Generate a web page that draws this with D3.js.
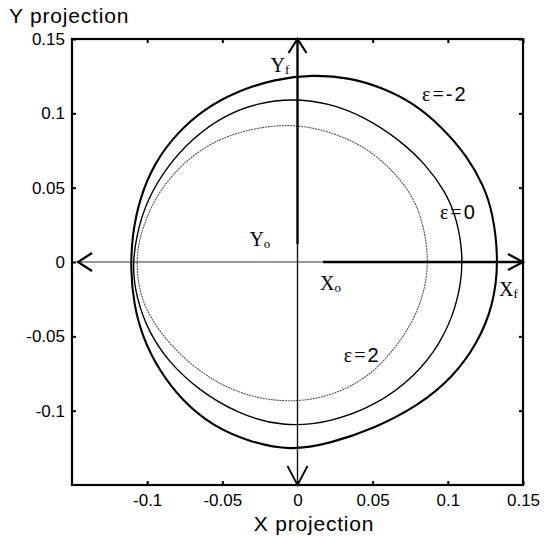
<!DOCTYPE html>
<html>
<head>
<meta charset="utf-8">
<script src="https://cdn.jsdelivr.net/npm/d3@7"></script>
<style>
  html, body { margin: 0; padding: 0; background: #fff; }
  svg { display: block; }
  .tick text { font-family: "Liberation Sans", Arial, sans-serif; font-size: 17px; fill: #000; }
</style>
</head>
<body>
<script>
// Axis ticks
const xTicks = [-0.1, -0.05, 0, 0.05, 0.1, 0.15];
const yTicks = [-0.1, -0.05, 0, 0.05, 0.1, 0.15];
const xTickLabels = ["-0.1", "-0.05", "0", "0.05", "0.1", "0.15"];
const yTickLabels = ["-0.1", "-0.05", "0", "0.05", "0.1", "0.15"];

// Projected trajectories for each epsilon (closed contours, [x, y])
const epsMinus2 = [
  [0.134, 0], [0.130, 0.033], [0.124, 0.051], [0.113, 0.071], [0.096, 0.091],
  [0.077, 0.107], [0.057, 0.117], [0.035, 0.124], [0.010, 0.126], [-0.015, 0.123],
  [-0.040, 0.115], [-0.062, 0.103], [-0.080, 0.087], [-0.095, 0.067], [-0.105, 0.043],
  [-0.110, 0.018], [-0.111, -0.005], [-0.109, -0.028], [-0.103, -0.051], [-0.092, -0.073],
  [-0.077, -0.093], [-0.057, -0.110], [-0.032, -0.121], [-0.005, -0.127], [0.022, -0.122],
  [0.051, -0.112], [0.080, -0.097], [0.104, -0.077], [0.120, -0.054], [0.130, -0.030]
];
const eps0 = [
  [0.111, 0], [0.106, 0.030], [0.098, 0.048], [0.085, 0.066], [0.068, 0.082],
  [0.046, 0.097], [0.021, 0.107], [-0.003, 0.110], [-0.027, 0.107], [-0.050, 0.098],
  [-0.070, 0.083], [-0.087, 0.064], [-0.100, 0.042], [-0.107, 0.019], [-0.110, -0.003],
  [-0.107, -0.025], [-0.099, -0.047], [-0.086, -0.067], [-0.066, -0.086], [-0.040, -0.102],
  [-0.010, -0.111], [0.022, -0.108], [0.053, -0.096], [0.078, -0.077], [0.095, -0.055],
  [0.106, -0.030]
];
const eps2 = [
  [0.0875, 0], [0.084, 0.025], [0.077, 0.044], [0.064, 0.061], [0.046, 0.077],
  [0.022, 0.088], [-0.004, 0.093], [-0.030, 0.090], [-0.055, 0.082], [-0.076, 0.067],
  [-0.092, 0.048], [-0.102, 0.027], [-0.108, 0.004], [-0.105, -0.024], [-0.093, -0.046],
  [-0.074, -0.067], [-0.050, -0.084], [-0.023, -0.093], [0.003, -0.094], [0.025, -0.089],
  [0.046, -0.078], [0.062, -0.062], [0.076, -0.042], [0.084, -0.022]
];
const curveLabels = ["ε=-2", "ε=0", "ε=2"];
const curveLabelPos = [[0.098, 0.108], [0.107, 0.029], [0.043, -0.067]];

const W = 544, H = 536;
const margin = { left: 72, top: 39, right: 21, bottom: 51 };
const iw = W - margin.left - margin.right;
const ih = H - margin.top - margin.bottom;

const x = d3.scaleLinear().domain([-0.15, 0.15]).range([0, iw]);
const y = d3.scaleLinear().domain([-0.15, 0.15]).range([ih, 0]);

const svg = d3.select("body").append("svg").attr("width", W).attr("height", H);
const g = svg.append("g").attr("transform", `translate(${margin.left},${margin.top})`);

// Tick marks pointing inward on all four sides
const fmtX = d => xTickLabels[xTicks.indexOf(d)];
const fmtY = d => yTickLabels[yTicks.indexOf(d)];
const axBottom = g.append("g").attr("transform", `translate(0,${ih})`)
  .call(d3.axisBottom(x).tickValues(xTicks).tickFormat(fmtX).tickSizeInner(-4).tickSizeOuter(0).tickPadding(9));
const axLeft = g.append("g")
  .call(d3.axisLeft(y).tickValues(yTicks).tickFormat(fmtY).tickSizeInner(-4).tickSizeOuter(0).tickPadding(7));
const axTop = g.append("g")
  .call(d3.axisTop(x).tickValues(xTicks).tickFormat("").tickSizeInner(-4).tickSizeOuter(0));
const axRight = g.append("g").attr("transform", `translate(${iw},0)`)
  .call(d3.axisRight(y).tickValues(yTicks).tickFormat("").tickSizeInner(-4).tickSizeOuter(0));
[axBottom, axLeft, axTop, axRight].forEach(a => {
  a.select(".domain").remove();
  a.selectAll(".tick line").attr("stroke", "#000").attr("stroke-width", 2);
});

// Contours
const line = d3.line().x(d => x(d[0])).y(d => y(d[1])).curve(d3.curveBasisClosed);
g.append("path").attr("d", line(epsMinus2)).attr("fill", "none").attr("stroke", "#000").attr("stroke-width", 2.1);
g.append("path").attr("d", line(eps0)).attr("fill", "none").attr("stroke", "#000").attr("stroke-width", 1.4);
g.append("path").attr("d", line(eps2)).attr("fill", "none").attr("stroke", "#555").attr("stroke-width", 1.1)
  .attr("stroke-dasharray", "2,0.8");

// Reference axes through the origin
const axLine = (x1, y1, x2, y2, w, col) => g.append("line")
  .attr("x1", x(x1)).attr("y1", y(y1)).attr("x2", x(x2)).attr("y2", y(y2))
  .attr("stroke", col).attr("stroke-width", w);
axLine(-0.146, 0, 0.017, 0, 1.2, "#333");
axLine(0.017, 0, 0.15, 0, 2.4, "#000");
axLine(0, -0.15, 0, 0.012, 1.4, "#111");
axLine(0, 0.012, 0, 0.15, 2.4, "#000");

// Open arrowheads: tip, then the two arm ends (offsets in px)
const arrow = (tx, ty, a1, a2, w) => {
  const px = x(tx), py = y(ty);
  g.append("path")
    .attr("d", `M${px + a1[0]},${py + a1[1]}L${px},${py}L${px + a2[0]},${py + a2[1]}`)
    .attr("fill", "none").attr("stroke", "#000").attr("stroke-width", w)
    .attr("stroke-linejoin", "miter");
};
arrow(-0.146, 0, [14, -9], [14, 9], 2.2);
arrow(0.15, 0, [-15, -8], [-15, 8], 2.2);
arrow(0, 0.15, [-9, 14], [9, 14], 2.2);
arrow(0, -0.15, [-10, -19], [10, -19], 1.8);

// Frame
g.append("rect").attr("x", 0).attr("y", 0).attr("width", iw).attr("height", ih)
  .attr("fill", "none").attr("stroke", "#000").attr("stroke-width", 2.2);

// Contour labels
const serif = '"Liberation Serif", "Times New Roman", serif';
const sans = '"Liberation Sans", Arial, sans-serif';
curveLabels.forEach((t, i) => {
  const tx = g.append("text").attr("x", x(curveLabelPos[i][0])).attr("y", y(curveLabelPos[i][1]))
    .attr("text-anchor", "middle").attr("font-size", 20).attr("letter-spacing", 2).attr("fill", "#000");
  tx.append("tspan").attr("font-family", serif).text("ε=");
  tx.append("tspan").attr("font-family", sans).text(t.slice(2));
});

// Frame labels on the reference axes
const frameLabels = [["X", "o", 0.015, -0.019], ["X", "f", 0.134, -0.023], ["Y", "o", -0.032, 0.011], ["Y", "f", -0.018, 0.128]];
frameLabels.forEach(([b, s, lx, ly]) => {
  const tx = g.append("text").attr("x", x(lx)).attr("y", y(ly))
    .attr("font-family", serif).attr("font-size", 20).attr("fill", "#000");
  tx.append("tspan").text(b);
  tx.append("tspan").attr("font-size", 13).attr("dy", 2).text(s);
});

// Axis titles
svg.append("text").attr("x", 314).attr("y", 531)
  .attr("text-anchor", "middle").attr("font-family", sans).attr("font-size", 21)
  .attr("letter-spacing", 0.8).text("X projection");
svg.append("text").attr("x", 9).attr("y", 23)
  .attr("font-family", sans).attr("font-size", 21).attr("letter-spacing", 0.8).text("Y projection");
</script>
</body>
</html>
